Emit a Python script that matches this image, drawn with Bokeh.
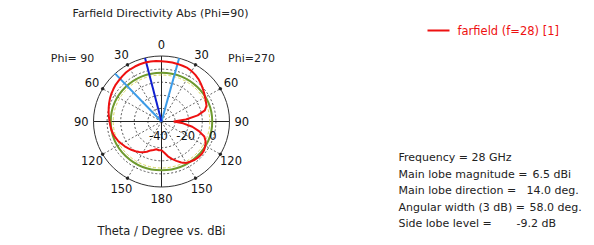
import numpy as np
from bokeh.plotting import figure
from bokeh.core.properties import value
from bokeh.embed import file_html
from bokeh.resources import INLINE

# ---------------- data ----------------
# signed theta: negative = Phi=90 half (left), positive = Phi=270 half (right)
theta_deg = [-180, -175, -170, -165, -160, -155, -150, -145, -140, -135, -130, -125,
             -120, -115, -110, -105, -100, -95, -90, -85, -80, -75, -70, -65, -60,
             -55, -50, -45, -40, -35, -30, -25, -20, -15, -10, -5, 0,
             5, 10, 15, 20, 25, 30, 35, 40, 45, 50, 55, 60, 65, 70, 75, 80, 85, 90,
             95, 100, 105, 110, 115, 120, 125, 130, 135, 140, 145, 150, 155, 160,
             165, 170, 175, 180]
directivity_dbi = [-18.0, -18.0, -18.5, -17.5, -16.5, -14.5, -13.0, -11.5, -10.3, -9.2, -8.2, -7.0,
                   -6.0, -4.8, -4.0, -3.2, -2.6, -2.2, -1.8, -1.2, -0.5, 0.2, 1.0, 1.8, 2.5,
                   3.2, 3.9, 4.3, 5.0, 5.6, 6.0, 6.3, 6.5, 6.6, 6.5, 6.3, 6.0,
                   5.8, 5.7, 5.5, 5.3, 5.1, 4.4, 3.4, 2.3, 0.9, -0.5, -1.8, -3.0, -4.0, -4.8,
                   -7.0, -13.0, -22.0, -31.0,
                   -24.0, -17.0, -11.5, -6.5, -4.2, -2.8, -1.8, -1.4, -1.5, -1.9, -2.7, -3.5,
                   -5.5, -8.0, -10.5, -13.0, -16.0, -18.0]

radial_min = -40
radial_max = 10
radial_grid = [-30, -20, -10, 0]
radial_tick_values = [-40, -20, 0]
radial_tick_labels = ["-40", "-20", "0"]
angle_ticks = [0, 30, 60, 90, 120, 150, 180]
angle_labels = ["0", "30", "60", "90", "120", "150", "180"]

main_lobe_direction = -14.0          # deg (Phi=90 side)
beam_edges = [-43.0, 15.0]           # 3 dB edges
main_lobe_magnitude = 6.5
side_lobe_level = -9.2
threshold_level = -4.5               # yellow dashed reference circle

title_text = "Farfield Directivity Abs (Phi=90)"
axis_text = "Theta / Degree vs. dBi"
phi_left = "Phi= 90"
phi_right = "Phi=270"
legend_text = "farfield (f=28) [1]"
info_labels = ["Frequency = 28 GHz", "Main lobe magnitude =", "Main lobe direction =",
               "Angular width (3 dB) =", "Side lobe level ="]
info_values = ["", "6.5 dBi", "14.0 deg.", "58.0 deg.", "-9.2 dB"]

# ---------------- geometry ----------------
W, H = 590, 241
OX, OY = 0.0, 0.0            # page offset of the frame
CX, CY = 161.0, 121.0        # page px of polar centre
SX, SY = 1.36, 1.31          # px per radial unit (dB)

x0 = -(CX - OX) / SX
y1 = (CY - OY) / SY
x_end = x0 + W / SX
y_start = y1 - H / SY


def pg(x, y):
    """page pixel -> data coords"""
    return (x - CX) / SX, (CY - y) / SY


def polar(th, v):
    r = np.asarray(v, dtype=float) - radial_min
    t = np.radians(np.asarray(th, dtype=float))
    return r * np.sin(t), r * np.cos(t)


p = figure(width=W, height=H, x_range=(x0, x_end), y_range=(y_start, y1),
           output_backend="svg", toolbar_location=None, min_border=0,
           x_axis_type=None, y_axis_type=None)
p.grid.visible = False
p.outline_line_color = None
p.background_fill_color = "white"
p.border_fill_color = "white"

RMAX = radial_max - radial_min
FONT = "DejaVu Sans"

# grid circles
for g in radial_grid:
    r = g - radial_min
    p.ellipse(x=0, y=0, width=2 * r, height=2 * r, fill_color=None,
              line_color="#555555", line_width=1, line_dash="2 2")

# radial grid lines
for a in [30, 60, 120, 150]:
    for s in (-1, 1):
        ex, ey = polar([s * a], [radial_max])
        p.segment(x0=[0], y0=[0], x1=ex, y1=ey, line_color="#666666",
                  line_width=1, line_dash="2 2")
# axes through centre
p.segment(x0=[0, -RMAX], y0=[-RMAX, 0], x1=[0, RMAX], y1=[RMAX, 0],
          line_color="#222222", line_width=1)

# reference circles
p.ellipse(x=0, y=0, width=2 * (threshold_level - radial_min),
          height=2 * (threshold_level - radial_min), fill_color=None,
          line_color="#d8d860", line_width=1, line_dash="3 2")
sl = main_lobe_magnitude + side_lobe_level - radial_min
p.ellipse(x=0, y=0, width=2 * sl, height=2 * sl, fill_color=None,
          line_color="#6e9a2e", line_width=2)

# outer circle
p.ellipse(x=0, y=0, width=2 * RMAX, height=2 * RMAX, fill_color=None,
          line_color="#333333", line_width=1)
# tick dots on outer circle
tk = [s * a for a in [30, 60, 120, 150] for s in (-1, 1)]
tx, ty = polar(tk, [radial_max] * len(tk))
p.scatter(tx, ty, size=2.5, color="#222222")

# beam lines
bx, by = polar(beam_edges, [radial_max] * 2)
p.segment(x0=[0, 0], y0=[0, 0], x1=bx, y1=by, line_color="#3b9be8", line_width=2)
mx, my = polar([main_lobe_direction], [radial_max])
p.segment(x0=[0], y0=[0], x1=mx, y1=my, line_color="#1020d0", line_width=2)

# pattern
px_, py_ = polar(theta_deg, directivity_dbi)
p.line(px_, py_, line_color="#ee1111", line_width=2)

# angle labels
lab_x, lab_y, lab_t = [], [], []
for a, t in zip(angle_ticks, angle_labels):
    sides = (1,) if a in (0, 180) else (-1, 1)
    for s in sides:
        lx, ly = polar([s * a], [radial_min + 59])
        lab_x.append(lx[0]); lab_y.append(ly[0]); lab_t.append(t)
p.text(x=lab_x, y=lab_y, text=lab_t, text_align="center", text_baseline="middle",
       text_font=value(FONT), text_font_size="11.5px", text_color="#111111")

# radial tick labels
rx = [(v - radial_min) - 2.2 for v in radial_tick_values]
ry = [pg(0, 135)[1]] * len(rx)
p.text(x=rx, y=ry, text=radial_tick_labels, text_align="center", text_baseline="middle",
       text_font=value(FONT), text_font_size="11.5px", text_color="#111111")


def txt(x, y, t, align="center", size="11px", color="#222222"):
    dx, dy = pg(x, y)
    p.text(x=[dx], y=[dy], text=[t], text_align=align, text_baseline="middle",
           text_font=value(FONT), text_font_size=size, text_color=color)


txt(72, 58, phi_left, size="11px")
txt(251, 58, phi_right, size="11px")
txt(160, 13, title_text, size="11px")
txt(161, 230, axis_text, size="11.5px")

# legend
lx0, ly0 = pg(427, 30)
lx1, _ = pg(449, 30)
p.segment(x0=[lx0], y0=[ly0], x1=[lx1], y1=[ly0], line_color="#ee1111", line_width=2)
txt(457, 30, legend_text, align="left", size="11.5px", color="#ee1111")

# info block
info_y = [157, 173.5, 190, 206.5, 222.5]
value_x = [0, 532, 526, 529, 516]
for lab, val, yy, vx in zip(info_labels, info_values, info_y, value_x):
    txt(398, yy, lab, align="left", size="11px", color="#222222")
    if val:
        txt(vx, yy, val, align="left", size="11px", color="#222222")

open("out.html", "w").write(file_html(p, INLINE))
